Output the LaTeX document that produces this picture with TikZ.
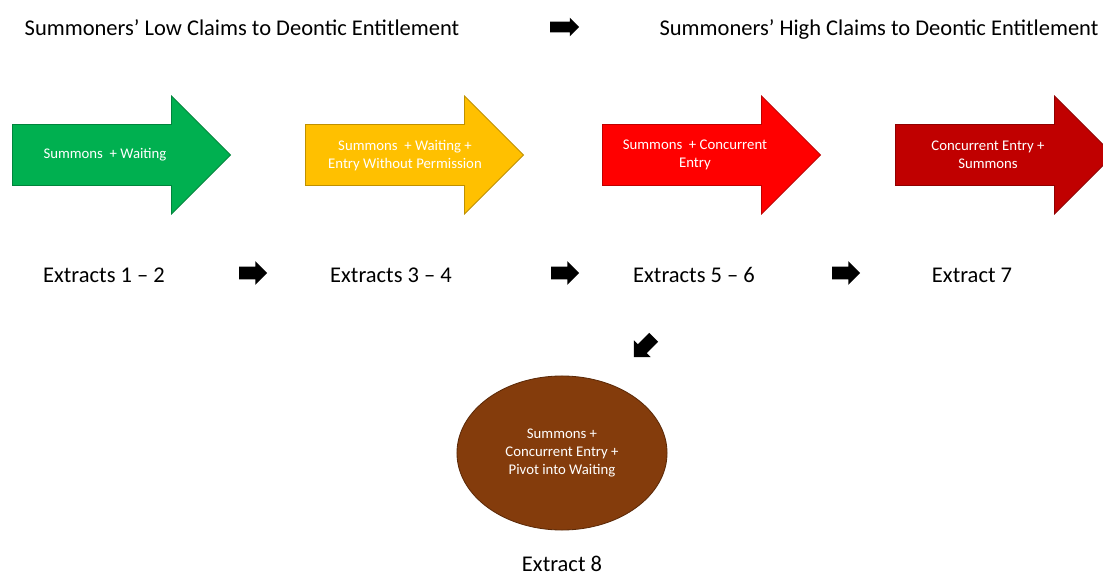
\documentclass[tikz,border=0pt]{standalone}
\usepackage{fontspec}
\setmainfont{Carlito}
\usetikzlibrary{shapes.arrows,shapes.geometric,positioning}
\definecolor{lowgreen}{HTML}{00B050}
\definecolor{midyellow}{HTML}{FFC000}
\definecolor{highred}{HTML}{FF0000}
\definecolor{topred}{HTML}{C00000}
\definecolor{pivotbrown}{HTML}{843C0C}
\tikzset{
  claim/.style={font=\fontsize{16}{19}\selectfont, inner sep=0pt, anchor=base},
  extract/.style={font=\fontsize{16}{19}\selectfont, inner sep=0pt, anchor=base},
  phase/.style={single arrow, draw=#1!75!black, fill=#1, line width=0.6pt,
    minimum height=5.45cm, inner xsep=0pt, inner ysep=0.75cm,
    single arrow head extend=0.7125cm, anchor=tail},
  phasetext/.style={text=white, align=center, font=\fontsize{10.5}{12.8}\selectfont, inner sep=0pt},
  pointer/.style={single arrow, fill=black, inner xsep=0pt, inner ysep=0.15cm,
    minimum height=0.7cm, single arrow head extend=0.14cm},
}

\begin{document}
\begin{tikzpicture}[x=0.025cm, y=-0.025cm]
  \path[use as bounding box, clip] (0,0) rectangle (1103,576);
  % claims
  \node[claim] (low) at (242,36) {Summoners’ Low Claims to Deontic Entitlement};
  \node[claim] (high) at (879,36) {Summoners’ High Claims to Deontic Entitlement};
  \node[pointer, minimum height=0.72cm, inner ysep=0.125cm,
    single arrow head extend=0.1cm] (toptr) at (562,27) {};
  % phases
  \node[phase=lowgreen] (p1) at (12,155) {};
  \node[phase=midyellow] (p2) at (305,155) {};
  \node[phase=highred] (p3) at (602,155) {};
  \node[phase=topred] (p4) at (895,155) {};
  \node[phasetext] (t1) at (105,155) {Summons ~+ Waiting};
  \node[phasetext] (t2) at (405,156) {Summons ~+ Waiting +\\Entry Without Permission};
  \node[phasetext] (t3) at (695,155) {Summons ~+ Concurrent\\Entry};
  \node[phasetext] (t4) at (988,155) {Concurrent Entry +\\Summons};
  % extracts
  \node[extract] (e12) at (104,283) {Extracts 1 – 2};
  \node[extract] (e34) at (391,283) {Extracts 3 – 4};
  \node[extract] (e56) at (694,283) {Extracts 5 – 6};
  \node[extract] (e7) at (972,283) {Extract 7};
  \node[pointer] (ptr1) at (250,273) {};
  \node[pointer] (ptr2) at (562,273) {};
  \node[pointer] (ptr3) at (843,273) {};
  \node[pointer, rotate=225] (ptr4) at (646,345) {};
  % pivot
  \node[ellipse, fill=pivotbrown, draw=pivotbrown!70!black, line width=0.6pt,
    minimum width=5.25cm, minimum height=3.85cm, text=white, align=center,
    font=\fontsize{10.5}{12.8}\selectfont] (pivot) at (562,453)
    {Summons +\\Concurrent Entry +\\Pivot into Waiting};
  \node[extract] (e8) at (562,571) {Extract 8};
\end{tikzpicture}
\end{document}
